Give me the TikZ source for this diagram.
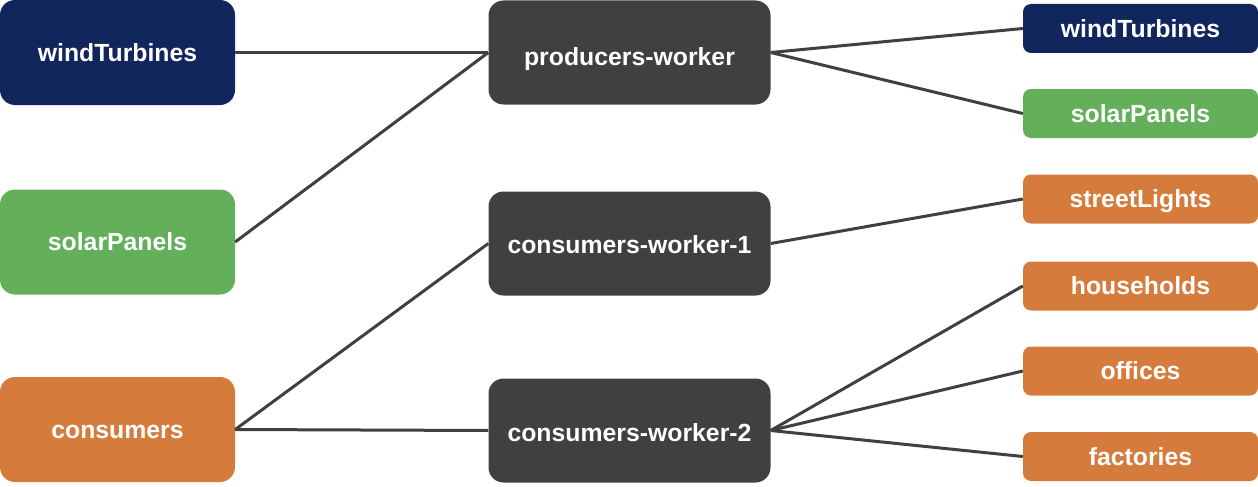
\documentclass[tikz,border=0pt]{standalone}
\usepackage{fontspec}
\setmainfont{Liberation Sans}
\definecolor{navy}{HTML}{12265E}
\definecolor{grn}{HTML}{63AF5A}
\definecolor{org}{HTML}{D57B3B}
\definecolor{drk}{HTML}{404040}
\tikzset{
  box/.style={inner sep=0pt, text=white, font=\fontsize{24.8}{30}\selectfont\bfseries, anchor=center, text height=17.8pt, text depth=0pt},
  bigbox/.style={box, rounded corners=15pt, minimum width=235pt, minimum height=105pt},
  midbox/.style={box, fill=drk, rounded corners=15pt, minimum width=282pt, minimum height=104pt},
  smallbox/.style={box, rounded corners=8pt, minimum width=235pt, minimum height=49pt},
  link/.style={draw=drk, line width=3pt}
}
\begin{document}
\begin{tikzpicture}[x=1pt,y=-1pt]
\useasboundingbox (0,0) rectangle (1258,487);
% left
\node[bigbox, fill=navy] (lw) at (117.5,52.5) {windTurbines};
\node[bigbox, fill=grn] (ls) at (117.5,242) {solarPanels};
\node[bigbox, fill=org] (lc) at (117.5,429.5) {consumers};
% middle
\node[midbox, text height=25.8pt] (pw) at (629.5,52.5) {producers-worker};
\node[midbox, text height=19.8pt] (c1) at (629.5,243.5) {consumers-worker-1};
\node[midbox, text height=21.8pt] (c2) at (629.5,430.5) {consumers-worker-2};
% right
\node[smallbox, fill=navy] (rw) at (1140.5,28.5) {windTurbines};
\node[smallbox, fill=grn] (rs) at (1140.5,113.5) {solarPanels};
\node[smallbox, fill=org] (rl) at (1140.5,199) {streetLights};
\node[smallbox, fill=org] (rh) at (1140.5,286) {households};
\node[smallbox, fill=org] (ro) at (1140.5,371) {offices};
\node[smallbox, fill=org] (rf) at (1140.5,456.5) {factories};
% connectors
\draw[link] (lw.east) -- (pw.west);
\draw[link] (ls.east) -- (pw.west);
\draw[link] (lc.east) -- (c1.west);
\draw[link] (lc.east) -- (c2.west);
\draw[link] (pw.east) -- (rw.west);
\draw[link] (pw.east) -- (rs.west);
\draw[link] (c1.east) -- (rl.west);
\draw[link] (c2.east) -- (rh.west);
\draw[link] (c2.east) -- (ro.west);
\draw[link] (c2.east) -- (rf.west);
\end{tikzpicture}
\end{document}
